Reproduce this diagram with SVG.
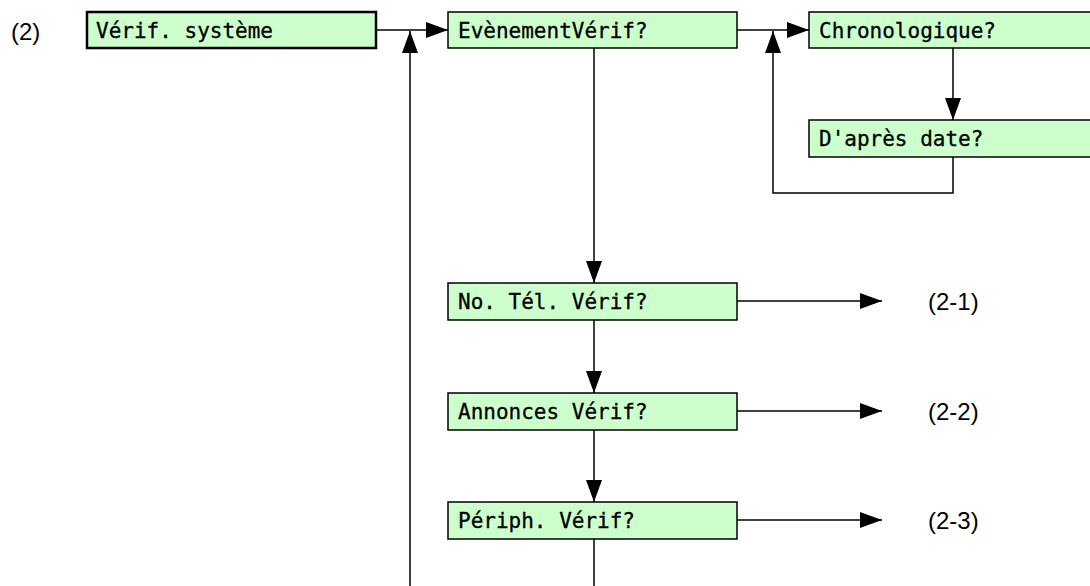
<svg xmlns="http://www.w3.org/2000/svg" width="1090" height="586" viewBox="0 0 1090 586">
<defs>
<style>
.box{fill:#ccffcc;stroke:#000;stroke-width:1.5}
.box.main{stroke-width:2.5}
.lbl{font-family:"DejaVu Sans Mono","Liberation Mono",monospace;font-size:21px;fill:#000;stroke:#000;stroke-width:0.3}
.ref{font-family:"Liberation Sans",Arial,sans-serif;font-size:24px;fill:#000}
.c{fill:none;stroke:#000;stroke-width:1.5}
</style>
<marker id="ah" markerUnits="userSpaceOnUse" markerWidth="24" markerHeight="16" refX="22" refY="8" orient="auto">
<path d="M0,0 L22,8 L0,16 Z" fill="#000"/>
</marker>
</defs>
<rect width="1090" height="586" fill="#fff"/>
<text class="ref" x="11" y="40">(2)</text>
<g id="connectors">
<path class="c" d="M377,30 H448" marker-end="url(#ah)"/>
<path class="c" d="M410,586 V31" marker-end="url(#ah)"/>
<path class="c" d="M737,30 H809" marker-end="url(#ah)"/>
<path class="c" d="M953,157 V193 H773 V31" marker-end="url(#ah)"/>
<path class="c" d="M953,48 V120" marker-end="url(#ah)"/>
<path class="c" d="M594,48 V283" marker-end="url(#ah)"/>
<path class="c" d="M594,320 V393" marker-end="url(#ah)"/>
<path class="c" d="M594,430 V502" marker-end="url(#ah)"/>
<path class="c" d="M594,539 V586"/>
<path class="c" d="M737,301 H882" marker-end="url(#ah)"/>
<path class="c" d="M737,411 H882" marker-end="url(#ah)"/>
<path class="c" d="M737,520 H882" marker-end="url(#ah)"/>
</g>
<g id="n-verif-systeme"><rect class="box main" x="87" y="12" width="289" height="36"/><text class="lbl" x="96" y="38">Vérif. système</text></g>
<g id="n-evenement"><rect class="box" x="448" y="12" width="289" height="36"/><text class="lbl" x="458" y="38">EvènementVérif?</text></g>
<g id="n-chrono"><rect class="box" x="809" y="12" width="290" height="36"/><text class="lbl" x="819" y="38">Chronologique?</text></g>
<g id="n-apres-date"><rect class="box" x="809" y="120" width="290" height="37"/><text class="lbl" x="819" y="146">D'après date?</text></g>
<g id="n-no-tel"><rect class="box" x="448" y="283" width="289" height="37"/><text class="lbl" x="458" y="309">No. Tél. Vérif?</text></g>
<g id="n-annonces"><rect class="box" x="448" y="393" width="289" height="37"/><text class="lbl" x="458" y="419">Annonces Vérif?</text></g>
<g id="n-periph"><rect class="box" x="448" y="502" width="289" height="37"/><text class="lbl" x="458" y="528">Périph. Vérif?</text></g>
<g id="r-2-1"><text class="ref" x="928" y="310">(2-1)</text></g>
<g id="r-2-2"><text class="ref" x="928" y="420">(2-2)</text></g>
<g id="r-2-3"><text class="ref" x="928" y="529">(2-3)</text></g>
</svg>
